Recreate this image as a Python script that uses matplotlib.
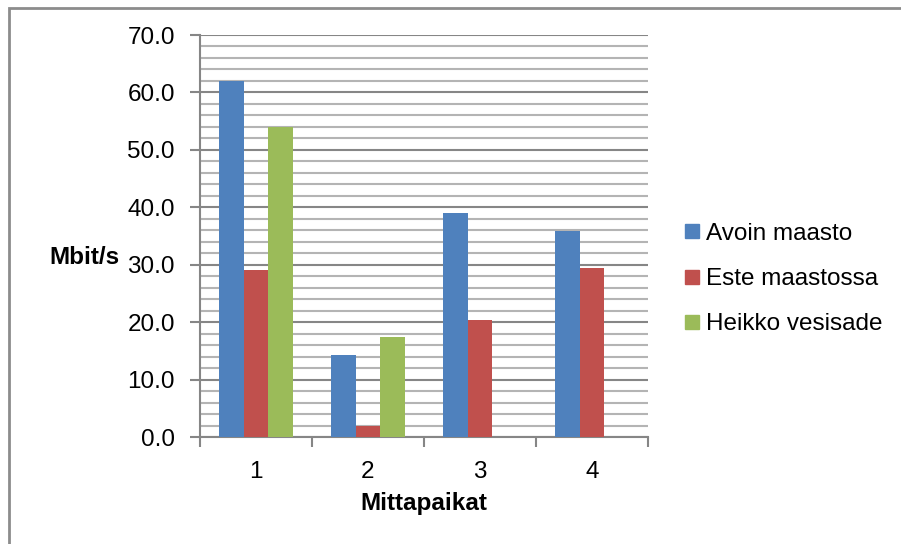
import matplotlib.pyplot as plt
import numpy as np
from matplotlib.lines import Line2D
from matplotlib.patches import Rectangle
from matplotlib.ticker import MultipleLocator

plt.rcParams["font.family"] = ["Liberation Sans", "DejaVu Sans"]

# mittaustulokset (Mbit/s)
paikat = ["1", "2", "3", "4"]
avoin_maasto = [62.0, 14.3, 39.0, 35.9]
este_maastossa = [29.0, 1.9, 20.4, 29.4]
heikko_vesisade = [54.0, 17.4, np.nan, np.nan]

sarjat = ["Avoin maasto", "Este maastossa", "Heikko vesisade"]
varit = ["#4F81BD", "#C0504D", "#9BBB59"]
koko = 17.5

fig = plt.figure(figsize=(9.01, 5.44), dpi=100)
ax = fig.add_axes([200 / 901, 1 - 437 / 544, 448 / 901, 402 / 544])

# kaavion reunus
fig.patches.append(Rectangle((9 / 901, -0.1), 1.2, 1 - 8 / 544 + 0.1,
                             transform=fig.transFigure, fill=False,
                             edgecolor="#8c8c8c", linewidth=2))

x = np.arange(len(paikat))
leveys = 1 / 4.5
for i, (arvot, nimi, vari) in enumerate(zip(
        [avoin_maasto, este_maastossa, heikko_vesisade], sarjat, varit)):
    ax.bar(x + (i - 1) * leveys, arvot, width=leveys, color=vari,
           label=nimi, zorder=3)

# akselit
ax.set_xlim(-0.5, len(paikat) - 0.5)
ax.set_ylim(0, 70)
ax.yaxis.set_major_locator(MultipleLocator(10))
ax.yaxis.set_minor_locator(MultipleLocator(2))
ax.yaxis.set_major_formatter(lambda v, p: f"{v:.1f}")
ax.grid(which="major", axis="y", color="#868686", linewidth=1.5, zorder=0)
ax.grid(which="minor", axis="y", color="#b4b4b4", linewidth=1.5, zorder=0)

ax.set_xticks(x, paikat)
ax.set_xticks(np.arange(len(paikat) + 1) - 0.5, minor=True)
ax.tick_params(axis="x", which="major", length=0, pad=17, labelsize=koko)
ax.tick_params(axis="x", which="minor", length=7, width=1.5,
               color="#868686", direction="out")
ax.tick_params(axis="y", which="major", length=7, width=1.5,
               color="#868686", direction="out", labelsize=koko, pad=11)
ax.tick_params(axis="y", which="minor", length=0)

for s in ["top", "right"]:
    ax.spines[s].set_visible(False)
for s in ["left", "bottom"]:
    ax.spines[s].set_color("#868686")
    ax.spines[s].set_linewidth(1.5)

ax.set_xlabel("Mittapaikat", fontsize=koko, fontweight="bold", labelpad=7)
fig.text(84 / 901, 1 - 258 / 544, "Mbit/s", fontsize=koko,
         fontweight="bold", ha="center", va="center")

# selite
kahvat = [Line2D([], [], marker="s", linestyle="none", markersize=10,
                 markerfacecolor=v, markeredgecolor=v) for v in varit]
fig.legend(kahvat, sarjat, loc="center left",
           bbox_to_anchor=(673 / 901, 1 - 279 / 544), frameon=False,
           fontsize=koko, handlelength=0.6, handletextpad=0.25,
           labelspacing=0.95, borderpad=0)

fig.savefig("out.png", dpi=100, facecolor="white")
